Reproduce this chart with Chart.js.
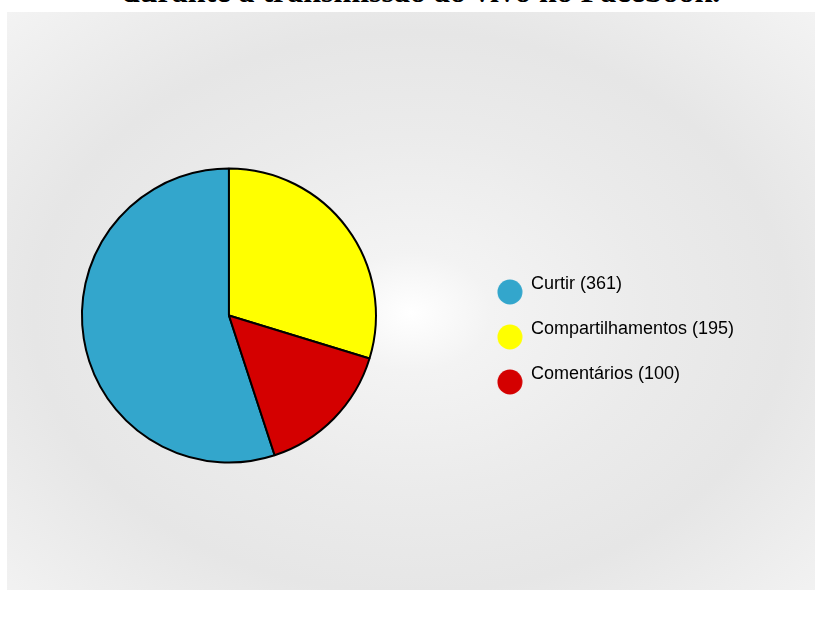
<!DOCTYPE html>
<html>
<head>
<meta charset="utf-8">
<script src="https://cdn.jsdelivr.net/npm/chart.js@4/dist/chart.umd.min.js"></script>
<style>
    html, body {
        margin: 0;
        padding: 0;
        background: #fff;
        overflow: hidden;
    }
    .title {
        position: absolute;
        left: 122px;
        top: -25px;
        font: bold 32px "Liberation Serif", "Times New Roman", serif;
        line-height: 32px;
        color: #000;
        white-space: nowrap;
    }
    .panel {
        position: absolute;
        left: 7px;
        top: 12px;
        width: 808px;
        height: 578px;
        background: radial-gradient(ellipse farthest-corner at 50% 52%, #ffffff 0%, #f3f3f3 14%, #ebebeb 42%, #e6e6e6 66%, #f3f3f3 100%);
    }
    /* deslocado 13px para a esquerda para a pizza ficar centrada em x=229 */
    #chart {
        position: absolute;
        left: -13px;
        top: 0;
    }
</style>
</head>
<body>
<div class="title">durante a transmissão ao vivo no Facebook.</div>
<div class="panel"></div>
<canvas id="chart" width="815" height="617"></canvas>

<script>
// dados do gráfico
const labels = ['Curtir', 'Compartilhamentos', 'Comentários'];
const values = [361, 195, 100];
const colors = ['#33a6cc', '#ffff00', '#d40000'];

// Curtir termina no topo, então a rotação vem da própria fatia
const total = values.reduce((a, b) => a + b, 0);
const startAngle = 360 * (1 - values[0] / total);

// bolinhas da legenda: um pouco abaixo do centro do texto, como no original
function makeDot(color) {
    const c = document.createElement('canvas');
    c.width = 26;
    c.height = 42;
    const g = c.getContext('2d');
    g.fillStyle = color;
    g.beginPath();
    g.arc(13, 29, 12.5, 0, Math.PI * 2);
    g.fill();
    return c;
}
const dots = colors.map(makeDot);

new Chart(document.getElementById('chart'), {
    type: 'pie',
    data: {
        labels: labels,
        datasets: [{
            data: values,
            backgroundColor: colors,
            borderColor: '#000',
            borderWidth: 2,
            hoverOffset: 0,
            clip: false
        }]
    },
    options: {
        responsive: false,
        animation: false,
        rotation: startAngle,
        radius: 147,
        layout: {
            padding: { left: 0, right: 58, top: 221, bottom: 207 }
        },
        plugins: {
            tooltip: { enabled: false },
            legend: {
                position: 'right',
                align: 'end',
                labels: {
                    usePointStyle: true,
                    pointStyleWidth: 24,
                    padding: 27,
                    color: '#222',
                    font: { size: 18, family: '"Liberation Sans", Arial, sans-serif' },
                    generateLabels: () => labels.map((l, i) => ({
                        text: l + ' (' + values[i] + ')',
                        fillStyle: colors[i],
                        strokeStyle: colors[i],
                        lineWidth: 0,
                        pointStyle: dots[i],
                        hidden: false,
                        index: i
                    }))
                }
            }
        }
    }
});
</script>
</body>
</html>
